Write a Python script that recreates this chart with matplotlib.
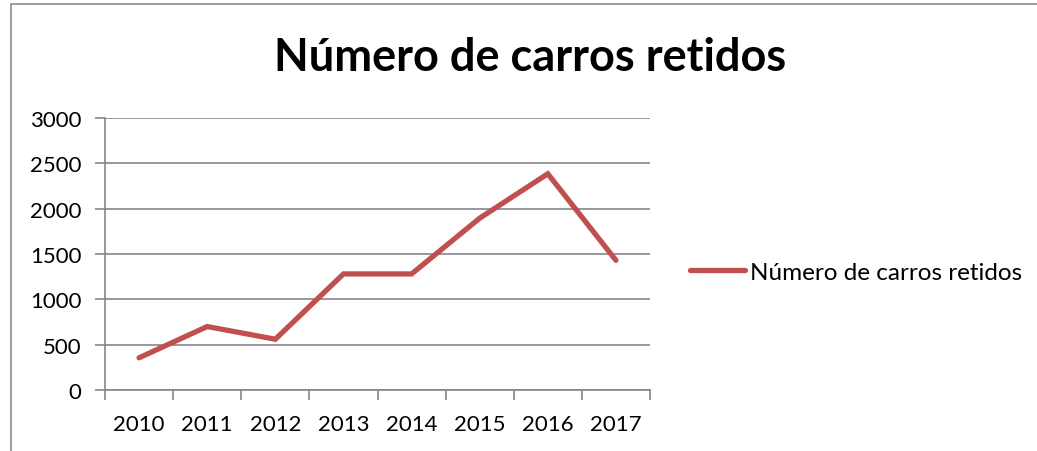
import matplotlib
matplotlib.use("Agg")
import matplotlib.pyplot as plt
from matplotlib.patches import Rectangle

plt.rcParams['font.family'] = ['Lato', 'DejaVu Sans']

years = ['2010', '2011', '2012', '2013', '2014', '2015', '2016', '2017']
carros = [355, 700, 560, 1280, 1280, 1895, 2385, 1430]
y_ticks = [0, 500, 1000, 1500, 2000, 2500, 3000]

title = 'Número de carros retidos'
series_name = 'Número de carros retidos'

fig = plt.figure(figsize=(10.37, 4.52), dpi=100)

# chart border (cropped at right/bottom like the source)
fig.patches.append(Rectangle((11 / 1037, -0.1), 1.2, 1 - 5 / 452 + 0.1,
                             transform=fig.transFigure, fill=False,
                             edgecolor='#8c8c8c', linewidth=1.2))

ax = fig.add_axes([105 / 1037, 1 - 391 / 452, 545 / 1037, 272 / 452])

x = list(range(len(years)))
line, = ax.plot(x, carros, color='#C0504D', linewidth=3.8,
                solid_capstyle='round', solid_joinstyle='miter',
                label=series_name)

ax.set_xlim(-0.5, len(years) - 0.5)
ax.set_ylim(0, 3000)
ax.set_yticks(y_ticks)
ax.yaxis.grid(True, color='#868686', linewidth=1.2)
ax.set_axisbelow(True)

# category boundaries as major ticks, labels on minor ticks
ax.set_xticks([i - 0.5 for i in range(len(years) + 1)])
ax.set_xticklabels([])
ax.set_xticks(x, minor=True)
ax.set_xticklabels(years, minor=True)
ax.tick_params(axis='x', which='major', length=7, width=1.2, color='#868686')
ax.tick_params(axis='x', which='minor', length=0, pad=17, labelsize=16)
ax.tick_params(axis='y', length=7, width=1.2, color='#868686', pad=10, labelsize=16)

for s in ['top', 'right']:
    ax.spines[s].set_visible(False)
for s in ['left', 'bottom']:
    ax.spines[s].set_color('#868686')
    ax.spines[s].set_linewidth(1.2)

fig.text(530 / 1037, 1 - 58 / 452, title, ha='center', va='center',
         fontsize=32.5, fontweight='bold')

fig.legend(handles=[line], loc='center left',
           bbox_to_anchor=(690 / 1037, 1 - 273 / 452), frameon=False,
           borderpad=0, borderaxespad=0,
           fontsize=17.5, handlelength=2.25, handletextpad=0.2)

fig.savefig('out.png', dpi=100)
